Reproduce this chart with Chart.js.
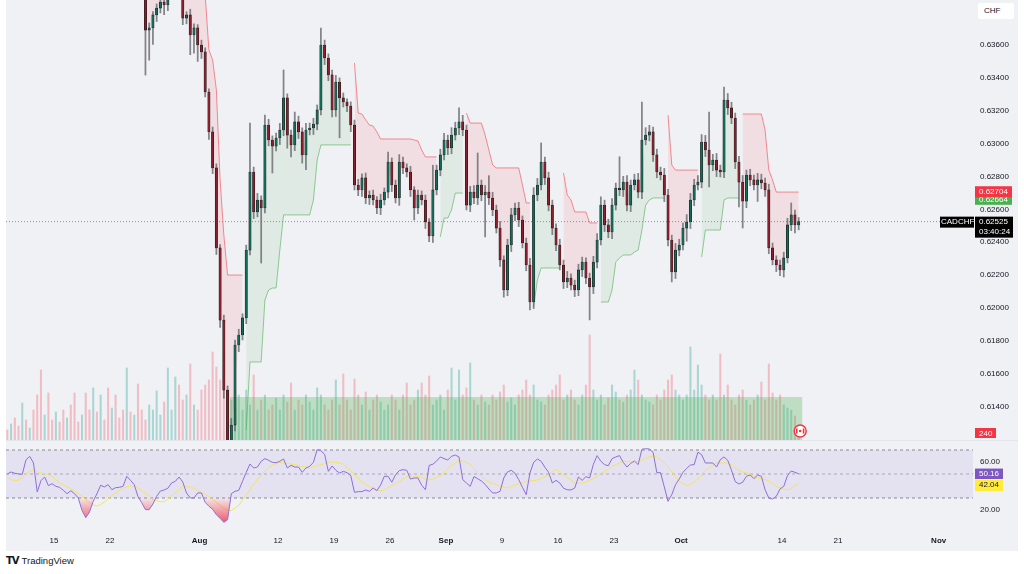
<!DOCTYPE html>
<html><head><meta charset="utf-8">
<script src="https://cdn.jsdelivr.net/npm/chart.js@4.4.1/dist/chart.umd.min.js"></script>
<style>
html,body{margin:0;padding:0;background:#ffffff;width:1024px;height:574px;overflow:hidden;font-family:"Liberation Sans",Arial,sans-serif;}
#panel{position:absolute;left:6px;top:0;width:1012px;height:551px;background:#f0f1f5;}
#c1{position:absolute;left:6px;top:0;}
#c2{position:absolute;left:6px;top:441px;}
#sep{position:absolute;left:6px;top:440px;width:1012px;height:1px;background:#e3e5ec;}
#chf{position:absolute;left:978px;top:3px;width:36px;height:16px;background:#ffffff;border-radius:2px;font-size:8px;color:#131722;line-height:16px;text-indent:6px;}
#logo{position:absolute;left:6px;top:555px;font-size:9.5px;color:#131722;line-height:12px;}
#logo b{font-size:10px;letter-spacing:-1px;margin-right:3px;font-family:"DejaVu Sans",sans-serif;}
</style></head>
<body>
<div id="panel"></div>
<canvas id="c1" width="1012" height="440"></canvas>
<div id="sep"></div>
<canvas id="c2" width="1012" height="110"></canvas>
<div id="chf">CHF</div>
<div id="logo"><b>TV</b>TradingView</div>
<script>
// ---------------- DATA ----------------
const PRICE_SCALE = 100000;      // prices below are in 1e-5 units
const startIndex = 38;           // first candle drawn (3 bars per trading day)
const barsPerDay = 3;
const firstOpen = 64010;
const closes = [
63935,63691,63704,63783,63825,63862,63844,63904,63965,63996,
63935,63764,63783,63661,63704,63600,63558,63314,63071,62852,
62365,61926,61500,61166,61287,61774,61835,61939,62352,62827,
62584,62657,62608,63113,63022,62985,63034,63083,63278,63052,
62992,63132,63071,62931,63083,63095,63119,63205,63600,63521,
63418,63205,63375,63278,63253,63229,63113,62748,62718,62791,
62669,62687,62657,62608,62657,62705,62888,62748,62669,62888,
62852,62827,62718,62608,62687,62657,62523,62438,62718,62839,
62931,63022,62973,63052,63095,63132,63083,62626,62705,62669,
62748,62687,62705,62669,62596,62486,62292,62109,62383,62566,
62608,62535,62395,62261,62036,62687,62748,62888,62791,62626,
62486,62383,62261,62158,62182,62139,62109,62231,62279,62182,
62127,62279,62413,62626,62505,62462,62626,62730,62718,62766,
62626,62748,62779,62705,63022,63052,63071,62931,62827,62809,
62687,62413,62219,62352,62383,62486,62523,62657,62748,62766,
63010,62961,62870,62900,62839,62827,63265,63217,63156,62888,
62766,62650,62809,62779,62748,62779,62760,62718,62365,62292,
62261,62231,62304,62505,62566,62505,62525];
const upWick = [
20,25,30,20,25,15,20,25,20,30,
25,30,20,35,25,20,30,25,20,30,
25,20,30,25,40,30,35,25,30,298,
30,40,25,60,35,25,30,40,170,25,
30,60,35,25,40,30,35,30,103,30,
25,30,40,25,30,20,25,30,35,25,
30,25,30,20,35,25,60,25,30,45,
30,25,35,20,30,25,30,20,150,30,
35,40,30,45,35,85,40,30,35,40,
195,30,40,100,35,30,40,25,35,40,
30,35,25,30,40,45,40,116,30,35,
30,25,35,30,40,25,30,35,30,25,
30,35,40,50,30,35,40,30,190,35,
40,30,35,40,231,45,40,30,35,30,
40,35,30,40,35,30,45,40,35,40,
45,40,231,35,40,30,79,40,35,30,
35,40,30,35,30,40,35,30,35,30,
25,30,35,40,73,30,25];
const downWick = [
20,274,183,100,40,30,60,35,25,30,
30,40,35,120,110,100,40,30,45,35,
40,45,50,90,40,35,40,30,35,30,
40,30,335,30,35,164,30,40,35,80,
73,35,40,50,90,30,40,35,30,40,
35,43,40,243,30,35,40,30,35,40,
35,40,30,35,40,30,35,40,30,45,
35,30,40,73,35,30,40,35,40,30,
35,30,40,35,30,40,35,30,40,35,
40,35,255,40,35,30,40,43,35,40,
35,40,30,35,49,40,35,30,40,35,
40,35,30,40,35,30,40,35,40,35,
200,40,35,30,40,35,40,30,35,40,
35,40,30,35,40,30,35,40,35,30,
40,35,61,40,35,30,80,40,35,30,
35,40,134,35,40,30,35,40,35,40,
152,164,40,35,30,100,35,40,35,30,
40,35,43,30,35,49,30];
const stUpper = [
64117,64117,64117,64117,64117,64087,64087,64087,64087,64087,
64087,64087,64087,64087,64087,64087,64087,63904,63570,63509,
63326,62779,62444,62200,62200,62200,62200,62200,null,null,
null,null,null,null,null,null,null,null,null,null,
null,null,null,null,null,null,null,null,null,null,
null,null,null,null,null,null,null,63491,63186,63180,
63144,63113,63107,63071,63028,63028,63028,63028,63028,63028,
63028,63028,63028,63022,63016,62961,62919,62919,62919,62919,
null,null,null,null,null,null,null,63186,63125,63125,
63125,63125,63052,62961,62870,62852,62852,62852,62852,62852,
62852,62852,62748,62639,62639,null,null,null,null,null,
null,null,null,62821,62687,62657,62584,62584,62584,62584,
62517,62517,62517,null,null,null,null,null,null,null,
null,null,null,null,null,null,null,null,null,null,
null,63174,62870,62839,62839,62839,62839,62839,62839,62839,
null,null,null,null,null,null,null,null,null,null,
null,63180,63180,63180,63180,63180,63180,63083,62839,62779,
62705,62705,62705,62705,62705,62705,62705];
const stLower = [
null,null,null,null,null,null,null,null,null,null,
null,null,null,null,null,null,null,null,null,null,
null,null,null,null,null,null,null,null,61257,61671,
61671,61671,61671,62048,62109,62121,62121,62352,62566,62566,
62566,62566,62566,62566,62566,62566,62657,62900,62992,62992,
62992,62992,62992,62992,62992,62992,62992,null,null,null,
null,null,null,null,null,null,null,null,null,null,
null,null,null,null,null,null,null,null,null,null,
62432,62547,62547,62596,62699,62699,62699,null,null,null,
null,null,null,null,null,null,null,null,null,null,
null,null,null,null,null,62006,62170,62243,62243,62243,
62243,62243,62243,null,null,null,null,null,null,null,
null,null,null,62036,62036,62036,62109,62279,62304,62322,
62322,62322,62340,62352,62474,62626,62657,62669,62669,62669,
62669,null,null,null,null,null,null,null,null,null,
62310,62474,62474,62474,62474,62474,62657,62669,62669,62669,
62669,null,null,null,null,null,null,null,null,null,
null,null,null,null,null,null,null];
const volumes = [
12,18,10,16,22,14,37,20,12,
30,45,70,25,47,
20,28,18,30,22,35,47,18,25,47,30,52,28,
45,20,52,32,45,22,30,72,28,25,56,30,20,35,
30,49,25,38,72,30,63,55,40,45,76,35,30,50,
55,60,88,73,60,85,50,40,35,45,30,
50,35,65,30,40,45,30,35,42,30,45,38,57,30,40,35,45,38,30,52,45,35,30,40,60,
35,66,40,30,61,45,35,48,30,40,45,38,30,35,45,40,30,45,57,35,
40,50,57,45,64,35,40,45,30,50,72,40,70,45,52,77,40,35,45,38,
35,45,40,48,55,38,42,35,45,50,60,45,55,40,38,35,45,50,55,65,
40,45,50,40,35,45,55,105,50,40,45,35,42,55,48,40,38,45,50,70,
60,45,40,38,35,45,40,50,60,65,50,45,40,45,93,50,75,55,45,40,
45,40,86,45,55,40,35,45,50,40,35,40,45,58,40,76,47,40,45,35,32,30,24,7];
const earlyVolDir = ('grrgr'+'rgrgr'+'rrgrr'+'grrgr'+'rrgrr'+'grgrr'+'grrrg'+'rgr').split('');
const rsi = [null,null,
50.0,51.7,50.6,50.0,49.7,61.9,64.7,59.2,35.0,44.4,
47.5,40.3,41.9,39.7,38.9,36.4,33.6,36.1,33.6,30.0,
19.7,13.6,18.3,27.2,33.6,40.6,39.2,41.1,36.9,38.6,
38.9,39.7,48.1,44.7,41.1,31.1,26.1,20.3,20.3,25.0,
31.4,35.8,36.7,38.1,42.5,43.9,47.5,43.3,34.2,30.0,
30.0,34.2,34.2,26.4,23.1,20.6,16.1,13.1,9.7,11.9,
33.6,35.6,36.4,43.9,51.4,58.3,55.0,55.8,60.6,62.8,
61.4,59.7,59.4,60.6,62.5,55.0,57.2,55.8,55.8,51.4,
55.0,56.4,59.7,70.3,69.4,66.4,52.2,56.7,53.1,50.8,
52.2,51.1,48.6,34.7,35.3,35.3,36.7,35.6,38.3,36.1,
40.8,48.1,48.1,43.1,49.4,52.8,53.6,53.1,45.8,46.7,
46.7,40.6,36.9,57.2,58.1,60.8,64.2,62.8,61.7,64.7,
65.8,64.2,45.3,42.5,39.7,47.8,46.1,44.2,41.4,37.5,
34.2,34.2,35.6,46.7,51.7,53.1,50.6,45.3,38.9,32.8,
50.8,59.7,62.5,60.6,55.6,51.4,42.5,44.7,42.5,38.1,
36.9,36.7,38.3,47.5,44.7,47.8,46.7,58.1,65.3,60.6,
57.8,56.9,62.8,64.2,65.3,59.7,55.8,58.9,60.8,57.8,
70.6,71.1,70.8,68.1,51.1,51.1,39.2,27.2,32.8,41.1,
45.8,51.4,54.7,57.5,57.8,68.1,66.1,59.2,59.2,59.2,
55.8,61.9,64.2,61.4,53.1,43.6,41.7,43.1,48.1,49.2,
46.1,49.2,48.1,36.9,30.0,29.2,31.4,37.5,39.7,48.6,
52.5,51.4,50.16];
const rsiMa = [null,null,
47.5,45.3,44.2,45.0,47.2,50.3,51.9,53.1,51.7,50.8,
50.3,49.4,48.1,45.3,42.5,41.1,39.4,37.8,35.8,33.6,
31.4,28.6,26.1,24.2,23.1,24.7,26.7,29.4,31.9,34.2,
36.4,38.3,39.2,40.0,40.0,38.1,36.1,33.9,31.4,28.6,
27.8,26.9,26.9,29.2,31.7,34.2,36.9,40.0,39.7,38.9,
38.1,36.4,34.7,33.3,31.1,28.9,26.4,23.9,21.4,19.7,
19.4,21.7,23.9,28.1,32.8,36.9,41.4,45.6,49.2,52.2,
55.3,57.5,58.6,59.7,59.2,58.9,58.3,57.8,57.2,56.4,
55.8,55.0,56.1,56.9,57.8,58.6,59.7,60.0,59.7,59.2,
58.1,55.3,53.1,49.7,46.1,43.3,41.4,39.7,38.3,36.9,
35.8,36.7,38.6,40.3,41.9,43.6,45.6,47.8,48.6,48.3,
48.1,47.2,45.8,45.0,45.8,47.2,48.6,50.8,54.7,57.2,
59.2,61.1,60.6,59.7,58.1,54.2,51.1,48.1,45.0,43.3,
42.2,41.1,40.0,39.2,38.3,39.7,40.8,41.9,42.8,43.9,
44.2,44.4,45.0,46.4,47.5,49.2,51.7,53.6,51.9,49.4,
47.2,44.7,42.5,42.5,42.5,43.3,44.7,46.1,47.8,50.6,
51.9,53.9,56.4,57.8,59.2,60.6,60.3,60.0,60.0,60.8,
61.9,63.0,64.2,65.0,64.2,61.9,59.2,55.8,52.2,47.5,
43.9,41.9,40.3,41.4,43.3,45.8,49.4,53.1,55.3,57.5,
59.2,59.2,59.2,59.2,57.5,54.7,53.3,51.7,50.8,49.4,
48.1,46.7,46.1,45.3,44.2,42.2,39.7,38.6,37.5,36.7,
37.8,40.3,42.04];
const tickDays   = [5,10,18,25,30,35,40,45,50,55,61,70,75,84];   // trading-day number of each date label
const tickLabels = ['15','22','Aug','12','19','26','Sep','9','16','23','Oct','14','21','Nov'];
const monthLabels = ['Aug','Sep','Oct','Nov'];
const priceTicks = [0.614,0.616,0.618,0.620,0.622,0.624,0.626,0.628,0.630,0.632,0.634,0.636];
const rsiTicks = [20, 60];
const rsiLevels = [70, 50, 30];
const viewFrom = 1.64, viewTo = 260.7;         // visible bar range
const priceMin = 0.61196, priceMax = 0.63874;
const rsiMin = 5.83, rsiMax = 77.5;
const volMax = 440;
const volZone = {from: 61.6, to: 215, level: 43};
const lastPrice = 0.62525, countdown = '03:40:24', symbol = 'CADCHF';
const stLastUpper = 0.62704, stLastLower = 0.62664;
const lastVolumeText = '240';
const rsiLast = 50.16, rsiMaLast = 42.04;
const eventIndex = 214.4;

// ---------------- BUILD ----------------
const S = PRICE_SCALE;
Chart.defaults.font.family = '"Liberation Sans", Arial, sans-serif';
Chart.defaults.font.size = 8;
Chart.defaults.color = '#131722';

const opens = closes.map((c, k) => k === 0 ? firstOpen : closes[k - 1]);
const xOf = k => startIndex + k;
const isUp = closes.map((c, k) => c >= opens[k]);
const bodyData = closes.map((c, k) => ({x: xOf(k), y: [opens[k] / S, c / S]}));
const wickData = closes.map((c, k) => ({x: xOf(k), y: [(Math.min(opens[k], c) - downWick[k]) / S, (Math.max(opens[k], c) + upWick[k]) / S]}));
const midData = closes.map((c, k) => ({x: xOf(k), y: (opens[k] + c) / 2 / S}));
const stUpData = stUpper.map((v, k) => ({x: xOf(k), y: v === null ? null : v / S}));
const stLoData = stLower.map((v, k) => ({x: xOf(k), y: v === null ? null : v / S}));
const volData = volumes.map((v, i) => ({x: i, y: v}));
const volRed = 'rgba(242,54,69,0.28)', volTeal = 'rgba(8,153,129,0.30)';
const volColors = volumes.map((v, i) => {
  const up = i < startIndex ? earlyVolDir[i] === 'g' : isUp[i - startIndex];
  return up ? volTeal : volRed;
});
const noPad = s => { s.paddingTop = 0; s.paddingBottom = 0; s.paddingLeft = 0; s.paddingRight = 0; };

function drawTag(ctx, x, yc, w, h, bg, fg, lines) {
  ctx.save();
  ctx.fillStyle = bg;
  ctx.fillRect(x, yc - h / 2, w, h);
  ctx.fillStyle = fg;
  ctx.font = '8px "Liberation Sans", Arial, sans-serif';
  ctx.textBaseline = 'middle';
  ctx.textAlign = 'left';
  lines.forEach((t, j) => ctx.fillText(t, x + 4, yc - h / 2 + 5.5 + j * 10));
  ctx.restore();
}

const mainTags = {
  id: 'mainTags',
  afterDraw(chart) {
    const ctx = chart.ctx, y = chart.scales.y, yv = chart.scales.yv, xs = chart.scales.x, a = chart.chartArea;
    const ax = a.right + 2;
    drawTag(ctx, ax, y.getPixelForValue(stLastLower) + 0.5, 37, 11, '#4caf50', '#ffffff', [stLastLower.toFixed(5)]);
    drawTag(ctx, ax, y.getPixelForValue(stLastUpper) - 0.5, 37, 11, '#f23645', '#ffffff', [stLastUpper.toFixed(5)]);
    const py = y.getPixelForValue(lastPrice);
    ctx.save();
    ctx.fillStyle = '#000000';
    ctx.fillRect(ax, py - 5, 38, 21);
    ctx.fillRect(a.right - 33, py - 5, 34, 11);
    ctx.fillStyle = '#ffffff';
    ctx.font = '8px "Liberation Sans", Arial, sans-serif';
    ctx.textBaseline = 'middle';
    ctx.fillText(lastPrice.toFixed(5), ax + 4, py + 0.5);
    ctx.fillText(countdown, ax + 4, py + 10.5);
    ctx.fillText(symbol, a.right - 32, py + 0.5);
    ctx.restore();
    const vy = Math.min(yv.getPixelForValue(volumes[volumes.length - 1]), a.bottom - 5);
    drawTag(ctx, ax, vy, 21, 10, '#f23645', '#ffffff', [lastVolumeText]);
    // economic event marker (Canada)
    const ex = xs.getPixelForValue(eventIndex), ey = a.bottom - 9;
    ctx.save();
    ctx.beginPath(); ctx.arc(ex, ey, 6, 0, Math.PI * 2);
    ctx.fillStyle = '#ffffff'; ctx.fill();
    ctx.lineWidth = 1.5; ctx.strokeStyle = '#f23645'; ctx.stroke();
    ctx.fillStyle = '#e53935';
    ctx.fillRect(ex - 4.2, ey - 2.5, 1.6, 5);
    ctx.fillRect(ex + 2.6, ey - 2.5, 1.6, 5);
    ctx.beginPath(); ctx.arc(ex, ey, 1.3, 0, Math.PI * 2); ctx.fill();
    ctx.restore();
  }
};

new Chart(document.getElementById('c1'), {
  type: 'bar',
  data: {
    datasets: [
      {type: 'bar', data: bodyData, order: 0, grouped: false, barThickness: 2.4, minBarLength: 1,
        backgroundColor: isUp.map(u => u ? '#146b58' : '#8a1f2d'), borderColor: '#1a1a1a', borderWidth: 0.6, borderSkipped: false},
      {type: 'bar', data: wickData, order: 1, grouped: false, barThickness: 1.1,
        backgroundColor: 'rgba(95,95,100,0.75)', borderWidth: 0},
      {type: 'line', data: stUpData, order: 2, borderColor: 'rgba(242,54,69,0.55)', borderWidth: 1, pointRadius: 0, spanGaps: false,
        fill: {target: 4, above: 'rgba(242,54,69,0.10)', below: 'rgba(242,54,69,0.10)'}},
      {type: 'line', data: stLoData, order: 3, borderColor: 'rgba(76,175,80,0.6)', borderWidth: 1, pointRadius: 0, spanGaps: false,
        fill: {target: 4, above: 'rgba(76,175,80,0.10)', below: 'rgba(76,175,80,0.10)'}},
      {type: 'line', data: midData, order: 4, borderColor: 'rgba(0,0,0,0)', borderWidth: 0, pointRadius: 0, fill: false},
      {type: 'line', data: [{x: viewFrom, y: lastPrice}, {x: viewTo, y: lastPrice}], order: 5,
        borderColor: '#8c8f99', borderWidth: 1, borderDash: [1, 2], pointRadius: 0, fill: false},
      {type: 'line', data: [{x: volZone.from, y: volZone.level}, {x: volZone.to, y: volZone.level}], yAxisID: 'yv', order: 6,
        borderWidth: 0, pointRadius: 0, fill: 'origin', backgroundColor: 'rgba(76,175,80,0.30)'},
      {type: 'bar', data: volData, yAxisID: 'yv', order: 7, grouped: false, barThickness: 1.4,
        backgroundColor: volColors, borderWidth: 0}
    ]
  },
  options: {
    responsive: false, animation: false, devicePixelRatio: 1,
    layout: {padding: 0},
    plugins: {legend: {display: false}, tooltip: {enabled: false}},
    scales: {
      x: {type: 'linear', min: viewFrom, max: viewTo, display: false, offset: false},
      y: {position: 'right', min: priceMin, max: priceMax,
        grid: {display: false, drawTicks: false}, border: {display: false},
        afterBuildTicks: s => { s.ticks = priceTicks.map(v => ({value: v})); },
        afterFit: s => { s.width = 45; noPad(s); },
        ticks: {padding: 7, color: '#131722', autoSkip: false, callback: v => v.toFixed(5)}},
      yv: {display: false, min: 0, max: volMax}
    }
  },
  plugins: [mainTags]
});

const rsiTags = {
  id: 'rsiTags',
  afterDraw(chart) {
    const ctx = chart.ctx, y = chart.scales.y, a = chart.chartArea;
    const ax = a.right + 2;
    const p1 = y.getPixelForValue(rsiLast);
    drawTag(ctx, ax, p1, 28, 10.5, '#7e57c2', '#ffffff', [rsiLast.toFixed(2)]);
    const p2 = Math.max(y.getPixelForValue(rsiMaLast), p1 + 11.5);
    drawTag(ctx, ax, p2, 28, 11.5, '#ffeb3b', '#131722', [rsiMaLast.toFixed(2)]);
  }
};

const rsiData = rsi.map((v, i) => ({x: i, y: v}));
const rsiMaData = rsiMa.map((v, i) => ({x: i, y: v}));
const lvl = v => [{x: viewFrom, y: v}, {x: viewTo, y: v}];

new Chart(document.getElementById('c2'), {
  type: 'line',
  data: {
    datasets: [
      {data: rsiData, order: 0, borderColor: '#8c6fd6', borderWidth: 1, pointRadius: 0,
        fill: {target: {value: rsiLevels[2]}, above: 'rgba(0,0,0,0)'},
        backgroundColor: (c) => {
          const ch = c.chart;
          if (!ch.chartArea || !ch.scales.y) return 'rgba(242,54,69,0.4)';
          const ys = ch.scales.y;
          const g = ch.ctx.createLinearGradient(0, ys.getPixelForValue(rsiLevels[2]), 0, ys.getPixelForValue(10));
          g.addColorStop(0, 'rgba(242,54,69,0.05)');
          g.addColorStop(1, 'rgba(242,54,69,0.8)');
          return g;
        }},
      {data: rsiMaData, order: 1, borderColor: '#f5e35c', borderWidth: 1, pointRadius: 0, fill: false},
      {data: lvl(rsiLevels[0]), order: 2, borderColor: 'rgba(120,123,134,0.85)', borderWidth: 1, borderDash: [3, 3], pointRadius: 0,
        fill: 4, backgroundColor: 'rgba(126,87,194,0.10)'},
      {data: lvl(rsiLevels[1]), order: 3, borderColor: 'rgba(120,123,134,0.55)', borderWidth: 1, borderDash: [3, 3], pointRadius: 0, fill: false},
      {data: lvl(rsiLevels[2]), order: 4, borderColor: 'rgba(120,123,134,0.85)', borderWidth: 1, borderDash: [3, 3], pointRadius: 0, fill: false}
    ]
  },
  options: {
    responsive: false, animation: false, devicePixelRatio: 1,
    layout: {padding: 0},
    plugins: {legend: {display: false}, tooltip: {enabled: false}},
    scales: {
      x: {type: 'linear', min: viewFrom, max: viewTo, offset: false,
        grid: {display: false, drawTicks: false}, border: {display: false},
        afterBuildTicks: s => { s.ticks = tickDays.map(d => ({value: d * barsPerDay - 0.5})); },
        afterFit: s => { s.height = 24; noPad(s); },
        ticks: {autoSkip: false, maxRotation: 0, padding: 9, color: '#131722',
          font: c => ({size: 8, weight: monthLabels.includes(tickLabels[c.index]) ? 'bold' : 'normal'}),
          callback: (v, i) => tickLabels[i]}},
      y: {position: 'right', min: rsiMin, max: rsiMax,
        grid: {display: false, drawTicks: false}, border: {display: false},
        afterBuildTicks: s => { s.ticks = rsiTicks.map(v => ({value: v})); },
        afterFit: s => { s.width = 45; noPad(s); },
        ticks: {padding: 7, color: '#131722', callback: v => v.toFixed(2)}}
    }
  },
  plugins: [rsiTags]
});
</script>
</body></html>
